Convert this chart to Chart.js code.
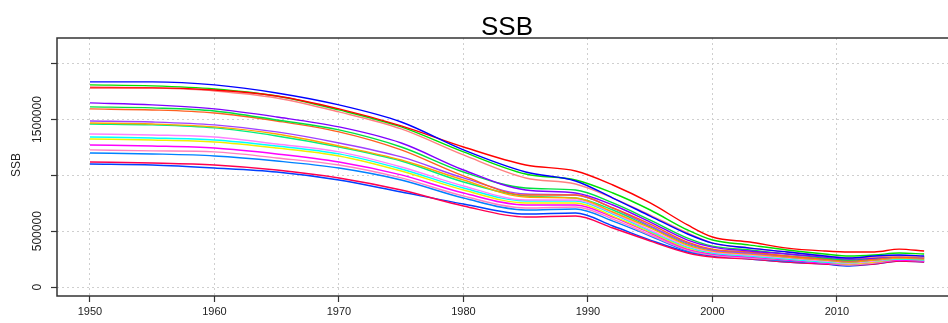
<!DOCTYPE html>
<html>
<head>
<meta charset="utf-8">
<script src="https://cdn.jsdelivr.net/npm/chart.js@4"></script>
<style>
html, body { margin: 0; padding: 0; background: #fff; overflow: hidden; }
#contenedor { width: 966px; height: 323px; position: relative; }
</style>
</head>
<body>
<div id="contenedor"><canvas id="MiGrafica"></canvas></div>
<script>
// años con valor
const anios = [1950, 1955, 1960, 1965, 1970, 1975, 1980, 1985, 1989, 1992, 1995, 1998, 2000, 2003, 2006, 2009, 2011, 2013, 2015, 2017];

// SSB de cada corrida
const ssb01 = [1837000, 1837000, 1810000, 1738000, 1631000, 1478000, 1228000, 1030000, 950000, 797000, 636000, 475000, 394000, 349000, 314000, 278000, 260000, 278000, 287000, 278000];
const ssb02 = [1783000, 1783000, 1765000, 1711000, 1595000, 1443000, 1254000, 1093000, 1039000, 914000, 753000, 556000, 448000, 403000, 349000, 323000, 314000, 314000, 340000, 323000];
const ssb03 = [1810000, 1801000, 1774000, 1711000, 1586000, 1434000, 1210000, 1012000, 959000, 842000, 690000, 511000, 421000, 376000, 332000, 296000, 278000, 287000, 305000, 296000];
const ssb04 = [1792000, 1783000, 1756000, 1693000, 1568000, 1416000, 1183000, 977000, 923000, 797000, 645000, 484000, 394000, 349000, 314000, 278000, 260000, 269000, 278000, 269000];
const ssb05 = [1649000, 1631000, 1595000, 1523000, 1434000, 1290000, 1048000, 869000, 842000, 735000, 582000, 421000, 358000, 323000, 296000, 269000, 251000, 260000, 278000, 269000];
const ssb06 = [1613000, 1604000, 1577000, 1496000, 1407000, 1254000, 1030000, 887000, 869000, 753000, 600000, 439000, 367000, 332000, 296000, 260000, 242000, 260000, 278000, 269000];
const ssb07 = [1595000, 1586000, 1559000, 1487000, 1389000, 1228000, 995000, 824000, 824000, 708000, 564000, 403000, 340000, 314000, 278000, 251000, 233000, 251000, 269000, 260000];
const ssb08 = [1487000, 1478000, 1452000, 1389000, 1290000, 1165000, 977000, 833000, 824000, 708000, 547000, 394000, 332000, 305000, 278000, 251000, 233000, 251000, 269000, 260000];
const ssb09 = [1469000, 1460000, 1434000, 1371000, 1263000, 1138000, 959000, 806000, 797000, 672000, 529000, 376000, 323000, 296000, 269000, 242000, 224000, 242000, 260000, 251000];
const ssb10 = [1460000, 1452000, 1425000, 1353000, 1254000, 1129000, 941000, 815000, 797000, 690000, 538000, 385000, 332000, 305000, 269000, 242000, 224000, 242000, 260000, 251000];
const ssb11 = [1371000, 1362000, 1344000, 1281000, 1210000, 1075000, 905000, 780000, 780000, 663000, 511000, 367000, 314000, 287000, 260000, 233000, 215000, 233000, 260000, 251000];
const ssb12 = [1344000, 1335000, 1317000, 1263000, 1192000, 1057000, 887000, 771000, 771000, 654000, 502000, 358000, 305000, 278000, 251000, 224000, 215000, 233000, 251000, 242000];
const ssb13 = [1326000, 1317000, 1299000, 1245000, 1174000, 1039000, 869000, 753000, 753000, 636000, 493000, 349000, 305000, 278000, 251000, 224000, 206000, 224000, 251000, 242000];
const ssb14 = [1272000, 1263000, 1245000, 1192000, 1120000, 1004000, 842000, 735000, 735000, 627000, 484000, 340000, 296000, 269000, 242000, 215000, 206000, 224000, 242000, 233000];
const ssb15 = [1228000, 1219000, 1210000, 1156000, 1093000, 977000, 815000, 708000, 717000, 609000, 466000, 332000, 287000, 260000, 242000, 215000, 197000, 215000, 242000, 233000];
const ssb16 = [1201000, 1192000, 1174000, 1129000, 1066000, 959000, 797000, 690000, 699000, 591000, 457000, 323000, 287000, 260000, 233000, 215000, 197000, 215000, 242000, 233000];
const ssb17 = [1120000, 1111000, 1093000, 1048000, 977000, 869000, 726000, 627000, 636000, 529000, 412000, 305000, 269000, 251000, 224000, 206000, 197000, 206000, 233000, 224000];
const ssb18 = [1102000, 1093000, 1066000, 1030000, 959000, 851000, 744000, 654000, 663000, 547000, 421000, 314000, 278000, 251000, 224000, 206000, 188000, 206000, 233000, 224000];

const corridas = [ssb01, ssb02, ssb03, ssb04, ssb05, ssb06, ssb07, ssb08, ssb09, ssb10, ssb11, ssb12, ssb13, ssb14, ssb15, ssb16, ssb17, ssb18];
const colores = ["#0000FF", "#FF0000", "#00E000", "#FF8080", "#8000FF", "#00E040", "#FF6020", "#A040FF", "#FFA500",
                 "#00F080", "#FF80FF", "#00FFFF", "#F0F000", "#FF00FF", "#FF80C0", "#0080FF", "#FF0050", "#0040FF"];

// marcas de los ejes
const marcasX = [1950, 1960, 1970, 1980, 1990, 2000, 2010];
const marcasY = [0, 500000, 1000000, 1500000, 2000000];
// etiquetas del eje y (R omite las que se enciman)
const etiquetasY = [0, 500000, 1500000];
const titulo = "SSB";
const tituloY = "SSB";

const fuente = '"Liberation Sans", Arial, sans-serif';

const extras = {
    id: "extras",
    afterDraw(chart) {
        const ctx = chart.ctx;
        const a = chart.chartArea;
        const y = chart.scales.y;
        ctx.save();
        // marco
        ctx.strokeStyle = "#333";
        ctx.lineWidth = 1.5;
        ctx.strokeRect(a.left, a.top, a.right - a.left, a.bottom - a.top);
        // titulo
        ctx.fillStyle = "#000";
        ctx.font = "26px " + fuente;
        ctx.textAlign = "center";
        ctx.textBaseline = "alphabetic";
        ctx.fillText(titulo, (a.left + a.right) / 2, a.top - 3);
        // etiquetas rotadas del eje y
        ctx.fillStyle = "#222";
        ctx.font = "12px " + fuente;
        ctx.textBaseline = "middle";
        etiquetasY.forEach(v => {
            ctx.save();
            ctx.translate(38, y.getPixelForValue(v));
            ctx.rotate(-Math.PI / 2);
            ctx.fillText(String(v), 0, 0);
            ctx.restore();
        });
        // nombre del eje y
        ctx.save();
        ctx.translate(17, 165);
        ctx.rotate(-Math.PI / 2);
        ctx.fillText(tituloY, 0, 0);
        ctx.restore();
        ctx.restore();
    }
};

let miCanvas = document.getElementById("MiGrafica").getContext("2d");

var chart = new Chart(miCanvas, {
    type: "line",
    data: {
        labels: anios,
        datasets: corridas.map((serie, i) => ({
            label: "corrida " + (i + 1),
            data: serie.map((v, j) => ({ x: anios[j], y: v })),
            borderColor: colores[i],
            backgroundColor: colores[i],
            borderWidth: 1.4,
            pointRadius: 0,
            cubicInterpolationMode: "monotone",
            fill: false
        }))
    },
    options: {
        responsive: true,
        maintainAspectRatio: false,
        animation: false,
        layout: { padding: { top: 38, right: 9, left: 0, bottom: 0 } },
        plugins: {
            legend: { display: false },
            title: { display: false },
            tooltip: { enabled: false }
        },
        scales: {
            x: {
                type: "linear",
                min: 1947.35,
                max: 2019.64,
                afterBuildTicks: s => { s.ticks = marcasX.map(v => ({ value: v })); },
                afterFit: s => { s.height = 27; },
                ticks: {
                    maxRotation: 0,
                    autoSkip: false,
                    padding: 3,
                    color: "#222",
                    font: { size: 11, family: fuente },
                    callback: v => String(v)
                },
                grid: {
                    color: "#cfcfcf",
                    lineWidth: 1,
                    tickLength: 6,
                    tickColor: "#333",
                    tickWidth: 1.2,
                    tickBorderDash: []
                },
                border: { display: false, dash: [2, 3] }
            },
            y: {
                min: -80000,
                max: 2230000,
                afterBuildTicks: s => { s.ticks = marcasY.map(v => ({ value: v })); },
                afterFit: s => { s.width = 57; },
                ticks: {
                    autoSkip: false,
                    color: "rgba(0,0,0,0)",
                    callback: () => ""
                },
                grid: {
                    color: "#cfcfcf",
                    lineWidth: 1,
                    tickLength: 6,
                    tickColor: "#333",
                    tickWidth: 1.2,
                    tickBorderDash: []
                },
                border: { display: false, dash: [2, 3] }
            }
        }
    },
    plugins: [extras]
});
</script>
</body>
</html>
